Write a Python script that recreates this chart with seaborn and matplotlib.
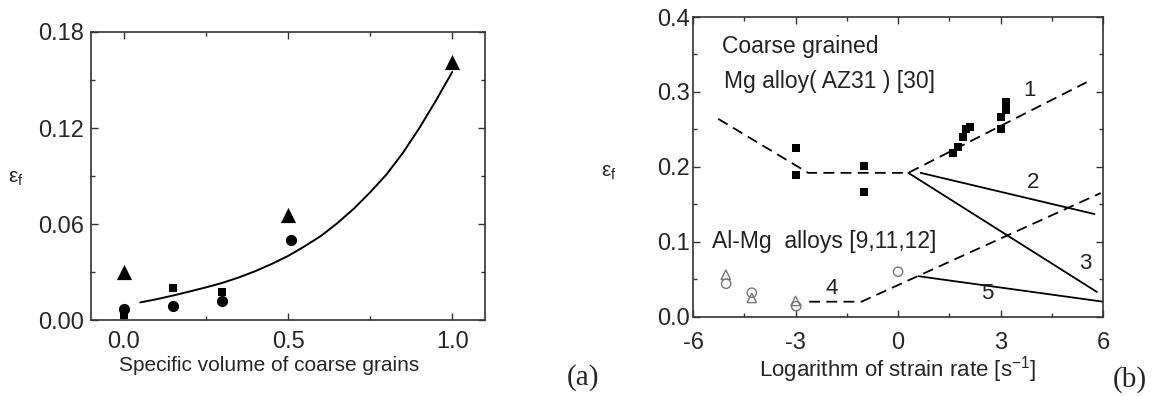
import numpy as np
import pandas as pd
import matplotlib
matplotlib.use("Agg")
import matplotlib.pyplot as plt
import seaborn as sns
from matplotlib.ticker import MultipleLocator, FormatStrFormatter

sns.set_theme(style="ticks")
plt.rcParams['font.family'] = ['Liberation Sans', 'DejaVu Sans']
plt.rcParams['axes.unicode_minus'] = False
plt.rcParams['mathtext.fontset'] = 'custom'
plt.rcParams['mathtext.rm'] = 'Liberation Sans'

# ---------- Panel (a) data ----------
a_tri_x = [0.0, 0.5, 1.0]
a_tri_y = [0.030, 0.0655, 0.161]
a_circ_x = [0.0, 0.15, 0.30, 0.51]
a_circ_y = [0.007, 0.009, 0.012, 0.050]
a_sq_x = [0.0, 0.15, 0.30]
a_sq_y = [0.003, 0.020, 0.0175]
a_fit_x = [0.05, 0.10, 0.15, 0.20, 0.25, 0.30, 0.35, 0.40, 0.45, 0.50, 0.55, 0.60, 0.65,
           0.70, 0.75, 0.80, 0.85, 0.90, 0.95, 1.00]
a_fit_y = [0.0110, 0.0130, 0.0153, 0.0178, 0.0204, 0.0232, 0.0266, 0.0305, 0.0350, 0.0400,
           0.0460, 0.0525, 0.0605, 0.0695, 0.0798, 0.0910, 0.1045, 0.1200, 0.1370, 0.1550]

# ---------- Panel (b) data ----------
b_sq_x = [-3.0, -3.0, -1.0, -1.0, 1.6, 1.75, 1.9, 2.0, 2.1, 3.0, 3.02, 3.15, 3.17]
b_sq_y = [0.225, 0.189, 0.201, 0.166, 0.219, 0.226, 0.240, 0.250, 0.253, 0.251, 0.266, 0.276, 0.287]
b_open_circ_x = [-5.03, -4.28, -2.98, 0.0]
b_open_circ_y = [0.044, 0.032, 0.014, 0.060]
b_open_tri_x = [-5.04, -4.28, -3.0]
b_open_tri_y = [0.056, 0.025, 0.021]

line1_x = [-5.26, -2.63, 0.30, 5.52]
line1_y = [0.264, 0.192, 0.192, 0.313]
line2_x = [0.66, 5.75]
line2_y = [0.192, 0.137]
line3_x = [0.30, 5.82]
line3_y = [0.192, 0.033]
line4_x = [-2.60, -1.07, 5.93]
line4_y = [0.020, 0.020, 0.165]
line5_x = [0.60, 6.00]
line5_y = [0.054, 0.020]

curve_labels = ["1", "2", "3", "4", "5"]
curve_label_x = [3.86, 3.96, 5.47, -1.94, 2.60]
curve_label_y = [0.302, 0.179, 0.071, 0.038, 0.031]

fig = plt.figure(figsize=(11.56, 3.96), dpi=100)
axa = fig.add_axes([0.0787, 0.1919, 0.4196 - 0.0787, 0.9192 - 0.1919])
axb = fig.add_axes([0.5995, 0.2003, 0.9542 - 0.5995, 0.957 - 0.2003])

# ----- panel a -----
sns.lineplot(x=a_fit_x, y=a_fit_y, ax=axa, color="black", lw=1.4, sort=False, estimator=None)
sns.scatterplot(x=a_tri_x, y=a_tri_y, ax=axa, marker="^", s=120, color="black", edgecolor="black", linewidth=0)
sns.scatterplot(x=a_circ_x, y=a_circ_y, ax=axa, marker="o", s=65, color="black", edgecolor="black", linewidth=0)
sns.scatterplot(x=a_sq_x, y=a_sq_y, ax=axa, marker="s", s=30, color="black", edgecolor="black", linewidth=0)
axa.set_xlim(-0.1, 1.1)
axa.set_ylim(0.0, 0.18)
axa.xaxis.set_major_locator(MultipleLocator(0.5))
axa.xaxis.set_minor_locator(MultipleLocator(0.25))
axa.yaxis.set_major_locator(MultipleLocator(0.06))
axa.yaxis.set_minor_locator(MultipleLocator(0.03))
axa.xaxis.set_major_formatter(FormatStrFormatter('%.1f'))
axa.yaxis.set_major_formatter(FormatStrFormatter('%.2f'))
axa.set_xlabel("Specific volume of coarse grains", fontsize=15, labelpad=2)
axa.xaxis.label.set_x(0.452)
axa.set_ylabel(r"ε$_\mathregular{f}$", fontsize=15, rotation=0)
axa.yaxis.set_label_coords(-0.19, 0.46)

# ----- panel b -----
dash = (0, (6, 3.5))
for lx, ly, ls in [(line1_x, line1_y, dash), (line4_x, line4_y, dash),
                   (line2_x, line2_y, "-"), (line3_x, line3_y, "-"), (line5_x, line5_y, "-")]:
    sns.lineplot(x=lx, y=ly, ax=axb, color="black", lw=1.3, sort=False, estimator=None, linestyle=ls)
sns.scatterplot(x=b_sq_x, y=b_sq_y, ax=axb, marker="s", s=40, color="black", edgecolor="black", linewidth=0)
sns.scatterplot(x=b_open_circ_x, y=b_open_circ_y, ax=axb, marker="o", s=45, facecolor="none",
                edgecolor="#777777", linewidth=1.0)
sns.scatterplot(x=b_open_tri_x, y=b_open_tri_y, ax=axb, marker="^", s=45, facecolor="none",
                edgecolor="#777777", linewidth=1.0)
for t, tx, ty in zip(curve_labels, curve_label_x, curve_label_y):
    axb.text(tx, ty, t, fontsize=16, ha="center", va="center", color="#222222")
axb.text(-5.16, 0.36, "Coarse grained", fontsize=16.5, ha="left", va="center", color="#222222")
axb.text(-5.1, 0.314, "Mg alloy( AZ31 ) [30]", fontsize=16.5, ha="left", va="center", color="#222222")
axb.text(-5.45, 0.100, "Al-Mg  alloys [9,11,12]", fontsize=16.5, ha="left", va="center", color="#222222")
axb.set_xlim(-6, 6)
axb.set_ylim(0.0, 0.4)
axb.xaxis.set_major_locator(MultipleLocator(3))
axb.xaxis.set_minor_locator(MultipleLocator(1.5))
axb.yaxis.set_major_locator(MultipleLocator(0.1))
axb.yaxis.set_minor_locator(MultipleLocator(0.05))
axb.yaxis.set_major_formatter(FormatStrFormatter('%.1f'))
axb.set_xlabel(r"Logarithm of strain rate [s$^\mathregular{-1}$]", fontsize=16, labelpad=0)
axb.set_ylabel(r"ε$_\mathregular{f}$", fontsize=15, rotation=0)
axb.yaxis.set_label_coords(-0.205, 0.45)

for ax, xpad, ypad in ((axa, 8, 5), (axb, 11, 2)):
    ax.tick_params(which="both", direction="in", top=True, right=True, labelsize=17,
                   color="#333333", width=1.0)
    ax.tick_params(which="major", length=5)
    ax.tick_params(which="minor", length=3)
    ax.tick_params(axis="x", which="major", pad=xpad)
    ax.tick_params(axis="y", which="major", pad=ypad)
    for s in ax.spines.values():
        s.set_color("#333333")
        s.set_linewidth(1.2)

fig.text(567 / 1156, 1 - 378 / 396, "(a)", fontsize=21, family="Liberation Serif", ha="left", va="center")
fig.text(1113 / 1156, 1 - 380 / 396, "(b)", fontsize=21, family="Liberation Serif", ha="left", va="center")

fig.savefig("out.png", dpi=100)
